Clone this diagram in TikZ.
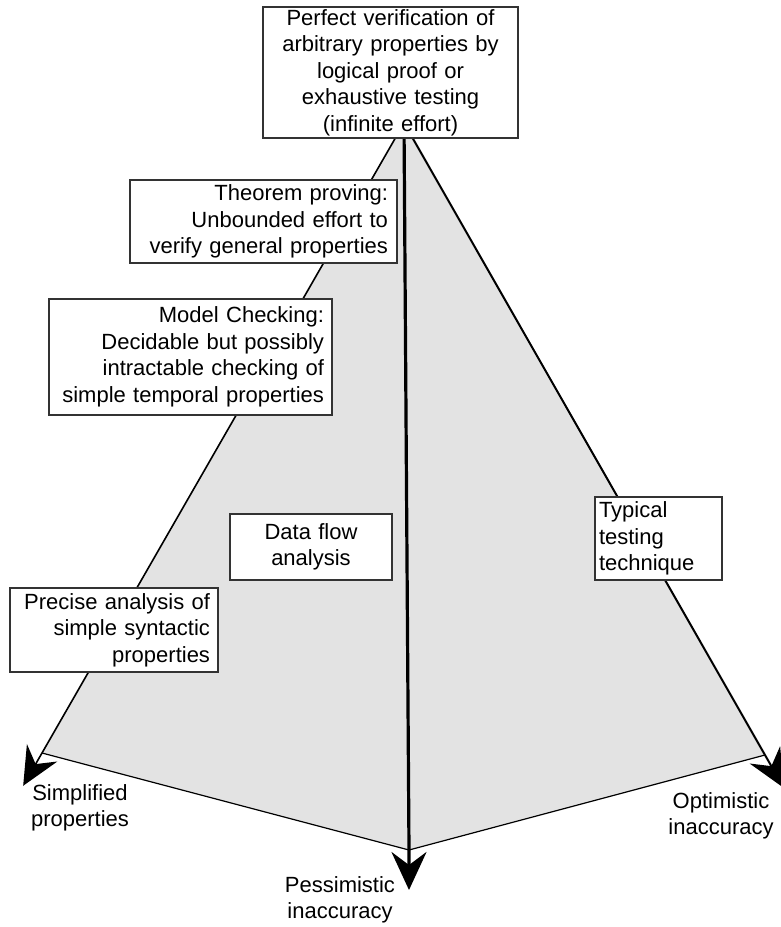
\documentclass[tikz,border=0pt]{standalone}
\usepackage{fontspec}
\setmainfont{Liberation Sans}
\usetikzlibrary{arrows.meta,calc}
\begin{document}
\begin{tikzpicture}[x=1pt,y=-1pt,
  txt/.style={font=\fontsize{22}{26.5}\selectfont},
  box/.style={txt,draw=black!80,line width=1.2pt,fill=white,rectangle,inner ysep=0pt},
  tip/.style={-{Stealth[length=38pt,width=35pt,inset=13pt]}},
  lbl/.style={txt,align=center,inner sep=0pt}]
\useasboundingbox (0,0) rectangle (781,927);
% pyramid points
\coordinate (A) at (404,123);
\coordinate (L) at (42,753);
\coordinate (B) at (409,850);
\coordinate (R) at (765,755);
\coordinate (Lt) at ($(A)!1.052!(L)$);
\coordinate (Bt) at (409,890);
\coordinate (Rt) at ($(A)!1.052!(R)$);
\fill[black!11] (A) -- (L) -- (B) -- (R) -- cycle;
\draw[line width=1.2pt] (L) -- (B) -- (R);
\draw[tip,line width=1.6pt] (A) -- (Lt);
\draw[tip,line width=2pt] (A) -- (Rt);
\draw[tip,line width=3.2pt] (A) -- (B) -- (Bt);
% boxes
\node[box,align=center,text width=247pt,inner xsep=4pt,minimum height=131pt] (top) at (390.5,72.5)
  {Perfect verification of\\arbitrary properties by\\logical proof or\\exhaustive testing\\(infinite effort)};
\node[box,align=right,text width=249pt,inner xsep=9pt,minimum height=83pt] (thm) at (263.5,221.5)
  {Theorem proving:\\Unbounded effort to\\verify general properties};
\node[box,align=right,text width=267pt,inner xsep=8pt,minimum height=116pt] (mc) at (190.5,357)
  {Model Checking:\\Decidable but possibly\\intractable checking of\\simple temporal properties};
\node[box,align=center,text width=154pt,inner xsep=4pt,minimum height=66pt] (df) at (311,547)
  {Data flow\\analysis};
\node[box,align=right,text width=192pt,inner xsep=8pt,minimum height=84pt] (pa) at (114,630)
  {Precise analysis of\\simple syntactic\\properties};
\node[box,align=left,text width=119pt,inner xsep=4pt,minimum height=83pt] (tt) at (658.5,538.5)
  {Typical\\testing\\technique};
% axis labels
\node[lbl] (simp) at (80,808) {Simplified\\properties};
\node[lbl] (pess) at (340,900) {Pessimistic\\inaccuracy};
\node[lbl] (opt) at (721,816) {Optimistic\\inaccuracy};
\end{tikzpicture}
\end{document}
